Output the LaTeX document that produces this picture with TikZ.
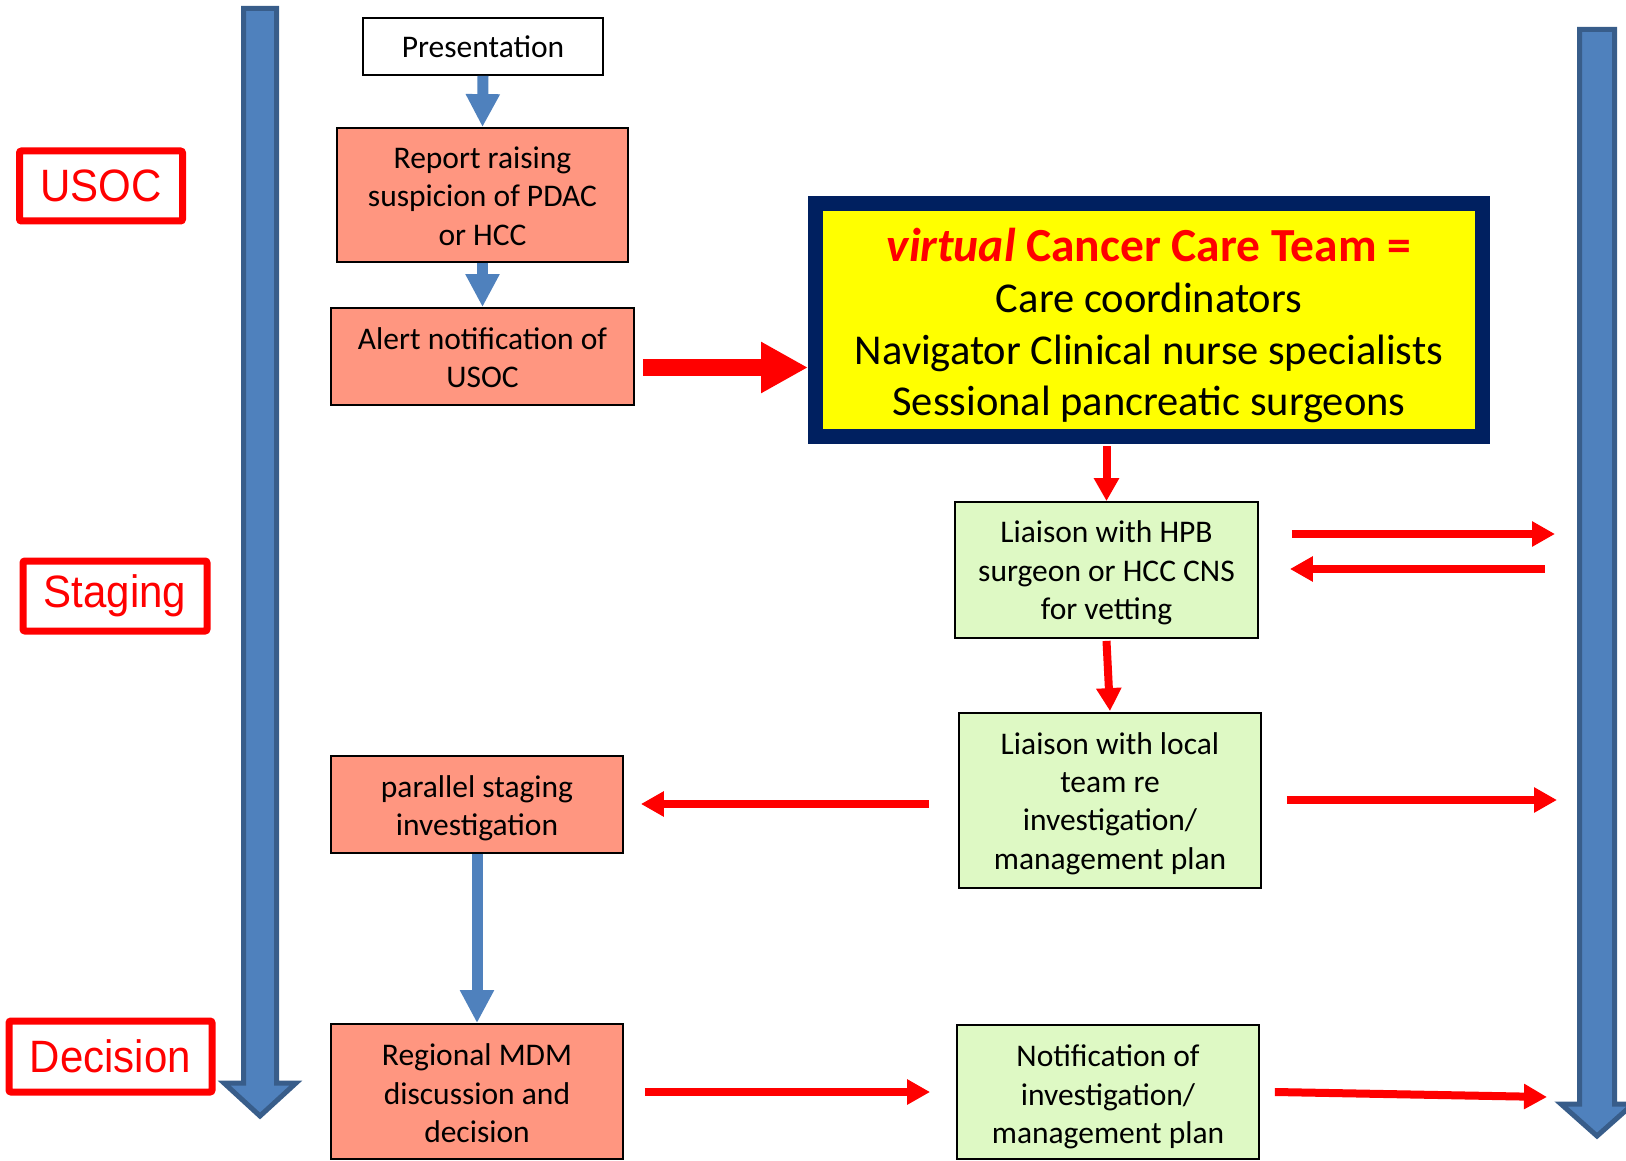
\documentclass[tikz,border=0pt]{standalone}
\usepackage{fontspec}
\setmainfont{Carlito}
\newfontfamily\labelfont{Liberation Sans}
\usetikzlibrary{arrows.meta,calc}
\definecolor{salmon}{RGB}{255,150,128}
\definecolor{mint}{RGB}{222,249,196}
\definecolor{navyframe}{RGB}{0,32,96}
\definecolor{barblue}{RGB}{79,129,189}
\definecolor{baredge}{RGB}{56,93,138}
\definecolor{sigyellow}{RGB}{255,255,0}

\begin{document}
\begin{tikzpicture}[x=1pt,y=-1pt,
  box/.style={draw=black, line width=1.8pt, inner sep=0pt, align=center,
    font=\fontsize{31.5}{38.4}\selectfont},
  % invisible strut that lowers a text block inside its box
  lowered/.style={execute at begin node={\rule{0pt}{#1}}},
  redbox/.style={box, fill=salmon},
  greenbox/.style={box, fill=mint},
  stagelabel/.style={draw=red, line width=7pt, rounded corners=2pt, text=red,
    inner sep=0pt, font=\labelfont\fontsize{42}{48}\selectfont},
  redarrow/.style={draw=red, line width=8pt, -{Triangle[length=23pt,width=24pt]}},
  bluearrow/.style={draw=barblue, line width=11pt, -{Triangle[length=33pt,width=32pt]}},
  bigbar/.style={fill=barblue, draw=baredge, line width=5pt, line join=miter},
]
\useasboundingbox (0,0) rectangle (1626,1161);
\clip (0,0) rectangle (1626,1161);

% timeline bars
\draw[bigbar] (243.5,8.5) -- (276.5,8.5) -- (276.5,1083) -- (296,1083)
  -- (260,1116) -- (224,1083) -- (243.5,1083) -- cycle;
\draw[bigbar] (1579.5,29.5) -- (1614.5,29.5) -- (1614.5,1104) -- (1633,1104)
  -- (1597,1136) -- (1561,1104) -- (1579.5,1104) -- cycle;

% phase labels
\node[stagelabel, minimum width=163pt, minimum height=70pt] (usoc) at (101,186) {\scalebox{1}[1.08]{USOC}};
\node[stagelabel, minimum width=184pt, minimum height=70pt] (staging) at (115,596) {\scalebox{1}[1.08]{Staging}};
\node[stagelabel, minimum width=203pt, minimum height=71pt] (decision) at (110.5,1056.5) {\scalebox{1}[1.08]{Decision}};

% pathway boxes
\node[box, fill=white, minimum width=240pt, minimum height=57pt] (pres) at (483,46.5) {Presentation};
\node[redbox, lowered=100.8pt, minimum width=291pt, minimum height=134pt] (report) at (482.5,195)
  {Report raising\\suspicion of PDAC\\or HCC};
\node[redbox, lowered=62.4pt, minimum width=303pt, minimum height=97pt] (alert) at (482.5,356.5)
  {Alert notification of\\USOC};
\node[draw=navyframe, line width=15pt, fill=sigyellow, minimum width=667pt,
  minimum height=233pt, inner sep=0pt, align=center,
  font=\fontsize{42.5}{51.5}\selectfont] (vct) at (1149,320)
  {\rule{0pt}{44pt}{\fontsize{47.5}{52}\selectfont\color{red}\bfseries{\itshape virtual} Cancer Care Team =}\\
   Care coordinators\\
   Navigator Clinical nurse specialists\\
   Sessional pancreatic surgeons};
\node[greenbox, lowered=104.8pt, minimum width=303pt, minimum height=136pt] (hpb) at (1106.5,570)
  {Liaison with HPB\\surgeon or HCC CNS\\for vetting};
\node[greenbox, lowered=143.2pt, minimum width=302pt, minimum height=175pt] (local) at (1110,800.5)
  {Liaison with local\\team re\\investigation/\\management plan};
\node[redbox, lowered=68.4pt, minimum width=292pt, minimum height=97pt] (par) at (477,804.5)
  {parallel staging\\investigation};
\node[redbox, lowered=102.8pt, minimum width=292pt, minimum height=135pt] (mdm) at (477,1091.5)
  {Regional MDM\\discussion and\\decision};
\node[greenbox, lowered=108.8pt, minimum width=302pt, minimum height=134pt] (notif) at (1108,1092)
  {Notification of\\investigation/\\management plan};

% free ends at the right-hand bar
\coordinate (r1) at (1555,534);
\coordinate (r2) at (1545,569);
\coordinate (r3) at (1557,800);
\coordinate (r4) at (1547,1097);

% connectors
\draw[bluearrow] (pres.south) -- (report.north);
\draw[bluearrow] (report.south) -- (alert.north);
\draw[bluearrow] (par.south) -- (mdm.north);

\coordinate (a1) at ($(alert.east)+(8,11)$);
\draw[draw=red, line width=17pt, -{Triangle[length=47pt,width=48pt]}] (a1) -- (vct.west |- a1);

\draw[redarrow] ($(hpb.north |- vct.south)+(0,2)$) -- (hpb.north);
\draw[redarrow] ($(hpb.south)+(0,2)$) -- ($(local.north)+(0,-1)$);
\draw[redarrow] ($(hpb.east)+(33,-36)$) -- (r1);
\draw[redarrow] (r2) -- ($(hpb.east)+(31,-1)$);
\draw[redarrow] ($(local.west)+(-29,3.5)$) -- ($(par.east)+(17,-0.5)$);
\draw[redarrow] ($(local.east)+(25,-0.5)$) -- (r3);
\draw[redarrow] ($(mdm.east)+(21,0.5)$) -- ($(notif.west)+(-26,0)$);
\draw[redarrow] ($(notif.east)+(15,0)$) -- (r4);
\end{tikzpicture}
\end{document}
